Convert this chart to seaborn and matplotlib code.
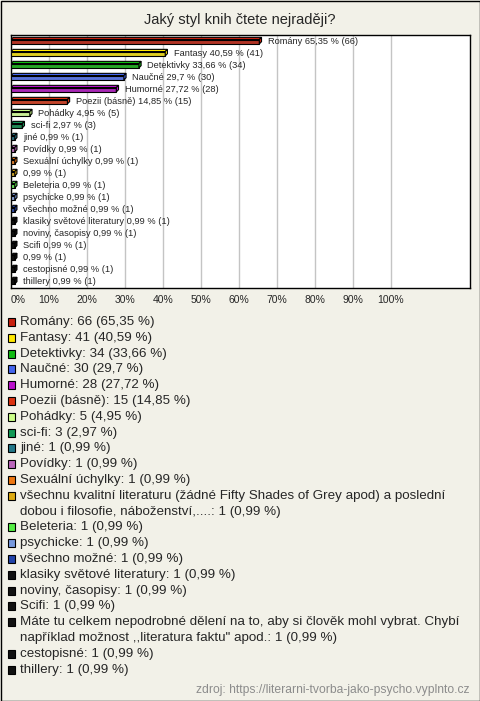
import textwrap

import matplotlib
matplotlib.use("Agg")
import matplotlib.pyplot as plt
import matplotlib.transforms as mtrans
from matplotlib.patches import Rectangle, Polygon
import seaborn as sns
import pandas as pd

# --- data -------------------------------------------------------------
title = "Jaký styl knih čtete nejraději?"
source = "zdroj: https://literarni-tvorba-jako-psycho.vyplnto.cz"

names = [
    "Romány", "Fantasy", "Detektivky", "Naučné", "Humorné", "Poezii (básně)",
    "Pohádky", "sci-fi", "jiné", "Povídky", "Sexuální úchylky",
    "všechnu kvalitní literaturu (žádné Fifty Shades of Grey apod) a poslední dobou i filosofie, náboženství,....",
    "Beleteria", "psychicke", "všechno možné", "klasiky světové literatury",
    "noviny, časopisy", "Scifi",
    "Máte tu celkem nepodrobné dělení na to, aby si člověk mohl vybrat. Chybí například možnost ,,literatura faktu\" apod.",
    "cestopisné", "thillery",
]
# the chart leaves the two long answers without a name
chart_labels = [
    "Romány", "Fantasy", "Detektivky", "Naučné", "Humorné", "Poezii (básně)",
    "Pohádky", "sci-fi", "jiné", "Povídky", "Sexuální úchylky", "",
    "Beleteria", "psychicke", "všechno možné", "klasiky světové literatury",
    "noviny, časopisy", "Scifi", "", "cestopisné", "thillery",
]
counts = [66, 41, 34, 30, 28, 15, 5, 3, 1, 1, 1, 1, 1, 1, 1, 1, 1, 1, 1, 1, 1]
percents = [65.35, 40.59, 33.66, 29.7, 27.72, 14.85, 4.95, 2.97, 0.99, 0.99,
            0.99, 0.99, 0.99, 0.99, 0.99, 0.99, 0.99, 0.99, 0.99, 0.99, 0.99]
colors = [
    "#c8200e", "#ffe800", "#11bb11", "#4466ee", "#bb11cc", "#dd3311",
    "#ccff88", "#119955", "#227788", "#bb66bb", "#ee7711", "#ddaa11",
    "#55ee44", "#7799dd", "#2244aa", "#111111", "#111111", "#111111",
    "#111111", "#111111", "#111111",
]
xticks = [0, 10, 20, 30, 40, 50, 60, 70, 80, 90, 100]

# --- layout -----------------------------------------------------------
W, H = 480, 701
BG = "#f2f1e8"


def fx(px):
    return px / W


def fy(py):
    return 1 - py / H


def fmt(p):
    return f"{p:g}".replace(".", ",")


sns.set_style("white")
plt.rcParams["font.family"] = ["Liberation Sans", "DejaVu Sans"]

fig = plt.figure(figsize=(W / 100, H / 100), dpi=100, facecolor=BG)
ax = fig.add_axes([fx(11), fy(288), fx(459), 253 / H])
ax.set_facecolor("white")

df = pd.DataFrame({"name": names, "pct": percents})
sns.barplot(
    data=df, x="pct", y="name", hue="name",
    palette=dict(zip(names, colors)), legend=False, orient="h",
    width=0.36, edgecolor="black", linewidth=0.8, ax=ax, zorder=3,
)

ax.set_xlim(0, 459 / 3.8)
ax.set_ylim(20.53, -0.56)
ax.set_xticks(xticks)
ax.set_xticklabels([f"{t}%" for t in xticks])
ax.get_xticklabels()[0].set_ha("left")
ax.tick_params(axis="x", length=0, labelsize=7.5, pad=5)
ax.set_yticks([])
ax.set_xlabel("")
ax.set_ylabel("")
ax.grid(axis="x", color="#c4c4c4", lw=1)
ax.set_axisbelow(True)
for s in ax.spines.values():
    s.set_color("black")
    s.set_linewidth(1)

# fake 3D: top and right faces drawn in pixels around every bar
d = 2.2
ident = mtrans.IdentityTransform()
for patch, col, lab, p, c in zip(ax.patches, colors, chart_labels, percents, counts):
    bb = patch.get_bbox()
    (xl, yb), (xr, yt) = ax.transData.transform([(bb.x0, bb.y1), (bb.x1, bb.y0)])
    top = [(xl, yt), (xl + d, yt + d), (xr + d, yt + d), (xr, yt)]
    side = [(xr, yt), (xr + d, yt + d), (xr + d, yb + d), (xr, yb)]
    for pts in (top, side):
        ax.add_artist(Polygon(pts, closed=True, facecolor=col, edgecolor="black",
                              lw=0.8, transform=ident, zorder=4))
    txt = f"{lab} {fmt(p)} % ({c})" if lab else f"{fmt(p)} % ({c})"
    ax.annotate(txt, xy=(bb.x1, (bb.y0 + bb.y1) / 2), xytext=(6, 0),
                textcoords="offset points", va="center", fontsize=6.7, zorder=5)

fig.text(0.5, fy(20), title, ha="center", va="center", fontsize=10.5)

# legend list below the chart
line = 0
for name, col, p, c in zip(names, colors, percents, counts):
    rows = textwrap.wrap(f"{name}: {c} ({fmt(p)} %)", width=74)
    yc = 322 + line * 15.8
    fig.patches.append(Rectangle((fx(7.5), fy(yc + 4)), fx(8), 8 / H,
                                 transform=fig.transFigure, facecolor=col,
                                 edgecolor="black", lw=0.8))
    for row in rows:
        fig.text(fx(20), fy(322 + line * 15.8), row, ha="left", va="center",
                 fontsize=9.6)
        line += 1

fig.text(fx(470), fy(690), source, ha="right", va="center", fontsize=8.7,
         color="#8c8c8c")

fig.patches.append(Rectangle((0.5 / W, 0.5 / H), 1 - 1 / W, 1 - 1 / H,
                             transform=fig.transFigure, fill=False,
                             edgecolor="black", lw=1))

fig.savefig("out.png", dpi=100, facecolor=BG)
